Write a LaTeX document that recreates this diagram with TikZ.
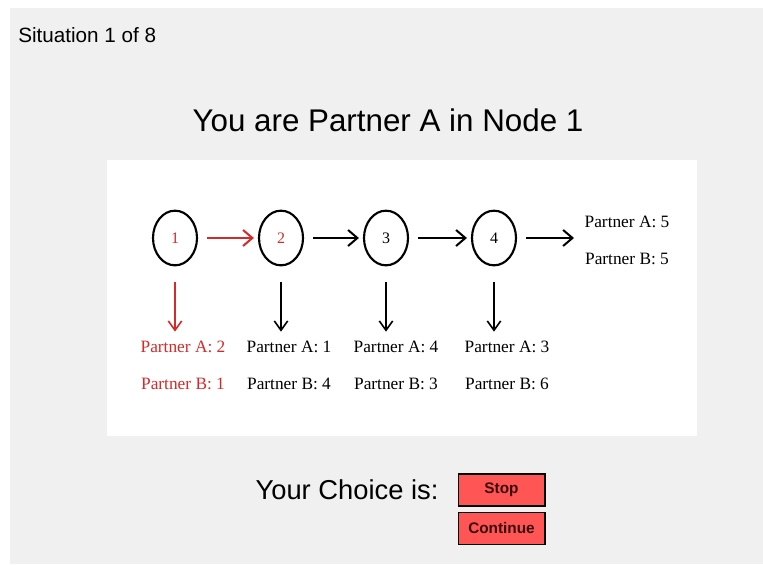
\documentclass[tikz,border=0pt]{standalone}
\usepackage{fontspec}
\setmainfont{Liberation Serif}
\setsansfont{Liberation Sans}
\usepackage{xcolor}
\usetikzlibrary{shapes.geometric,arrows.meta}
\definecolor{panelgray}{HTML}{F0F0F0}
\definecolor{choicered}{HTML}{D42A2A}
\definecolor{btnred}{HTML}{FF5555}
\definecolor{btntext}{HTML}{3A0A0A}

\begin{document}
\begin{tikzpicture}[x=0.75pt,y=0.75pt,yscale=-1,xscale=1,
  stage/.style={draw,ellipse,line width=1.6pt,minimum width=33pt,minimum height=41pt,inner sep=0pt,font=\fontsize{12}{14}\selectfont},
  move/.style={-{Straight Barb[length=7pt,width=12pt]},line width=1.5pt,shorten <=7pt,shorten >=3pt},
  drop/.style={-{Straight Barb[length=7pt,width=10pt]},line width=1.2pt,shorten <=12pt,shorten >=7pt},
  payoff/.style={anchor=north,inner sep=0pt,align=center,font=\fontsize{13}{27.75}\selectfont},
  button/.style={draw=black,line width=1pt,fill=btnred,minimum width=65pt,minimum height=24pt,inner sep=0pt,font=\sffamily\bfseries\fontsize{11.5}{13}\selectfont,text=btntext}]
\useasboundingbox (0,0) rectangle (763,564);
\fill[white] (0,0) rectangle (763,564);
\fill[panelgray] (10,8) rectangle (763,564);
\fill[white] (107,160) rectangle (697,436);

% heading
\node (situation) [anchor=west,inner sep=0pt,font=\sffamily\fontsize{15.5}{18}\selectfont] at (18,35) {Situation 1 of 8};
\node (title) [inner sep=0pt,font=\sffamily\fontsize{23.5}{28}\selectfont] at (388,120) {You are Partner A in Node 1};

% game tree
\node (n1) [stage,text=choicered] at (175,238) {1};
\node (n2) [stage,text=choicered] at (281,238) {2};
\node (n3) [stage] at (386,238) {3};
\node (n4) [stage] at (494,238) {4};
\coordinate (out) at (578,238);
\draw[move,choicered] (n1) -- (n2);
\draw[move] (n2) -- (n3);
\draw[move] (n3) -- (n4);
\draw[move] (n4) -- (out);

\node (pay1) [payoff,text=choicered] at (183,341) {Partner A: 2\\Partner B: 1};
\node (pay2) [payoff] at (289,341) {Partner A: 1\\Partner B: 4};
\node (pay3) [payoff] at (396,341) {Partner A: 4\\Partner B: 3};
\node (pay4) [payoff] at (507,341) {Partner A: 3\\Partner B: 6};
\node (pay5) [payoff] at (627,216) {Partner A: 5\\Partner B: 5};

\draw[drop,choicered] (n1.south) -- (n1.south |- pay1.north);
\draw[drop] (n2.south) -- (n2.south |- pay2.north);
\draw[drop] (n3.south) -- (n3.south |- pay3.north);
\draw[drop] (n4.south) -- (n4.south |- pay4.north);

% choice
\node (choice) [inner sep=0pt,font=\sffamily\fontsize{20.5}{24}\selectfont] at (347,490) {Your Choice is:};
\node (stop) [button] at (501.5,490) {Stop};
\node (continue) [button] at (501.5,528.5) {Continue};
\end{tikzpicture}
\end{document}
